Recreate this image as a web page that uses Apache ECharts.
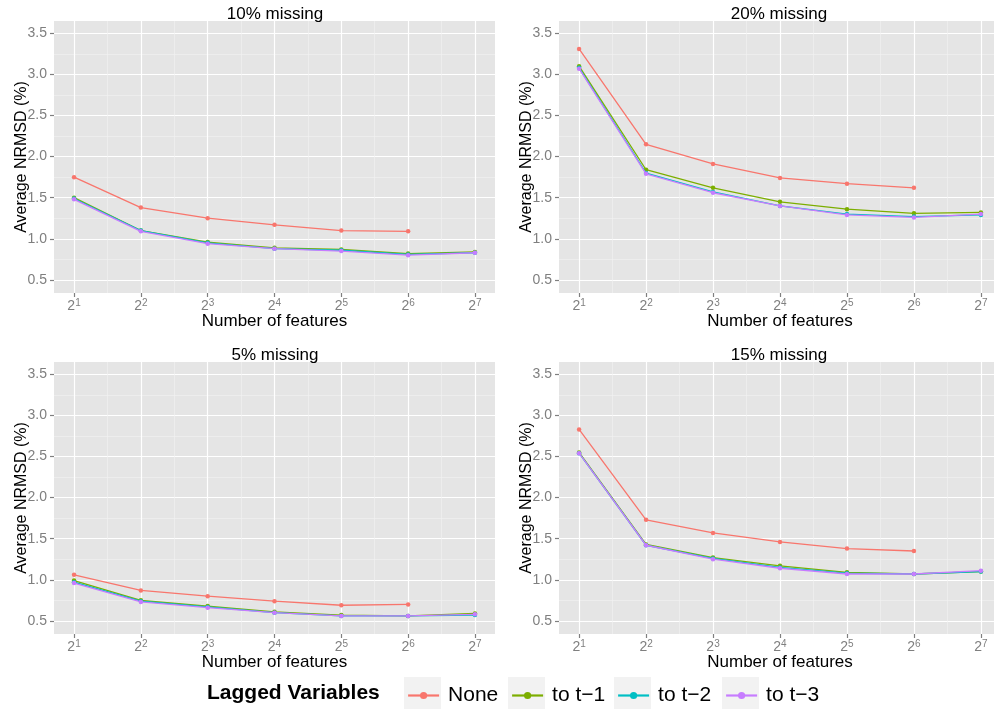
<!DOCTYPE html>
<html>
<head>
<meta charset="utf-8">
<script src="https://cdn.jsdelivr.net/npm/echarts@6/dist/echarts.min.js"></script>
<style>
  html, body { margin: 0; padding: 0; background: #fff; }
  #main { width: 994px; height: 709px; }
</style>
</head>
<body>
<div id="main"></div>
<script>
// number of features (x), lagged variable groups
const features = [2, 4, 8, 16, 32, 64, 128]
const lagNames = ['None', 'to t\u22121', 'to t\u22122', 'to t\u22123']
const lagColors = ['#F8766D', '#7CAE00', '#00BFC4', '#C77CFF']
const panelTitles = ['10% missing', '20% missing', '5% missing', '15% missing']
const yTicks = [0.5, 1.0, 1.5, 2.0, 2.5, 3.0, 3.5]
const yMinorTicks = [0.75, 1.25, 1.75, 2.25, 2.75, 3.25]

// average NRMSD (%) per panel, one array per lag setting
const miss10None = [1.75, 1.38, 1.25, 1.17, 1.10, 1.09]
const miss10T1 = [1.50, 1.10, 0.96, 0.89, 0.87, 0.82, 0.84]
const miss10T2 = [1.49, 1.10, 0.95, 0.88, 0.86, 0.81, 0.83]
const miss10T3 = [1.48, 1.09, 0.94, 0.88, 0.85, 0.80, 0.83]

const miss20None = [3.31, 2.15, 1.91, 1.74, 1.67, 1.62]
const miss20T1 = [3.10, 1.84, 1.62, 1.45, 1.36, 1.31, 1.32]
const miss20T2 = [3.08, 1.80, 1.57, 1.40, 1.30, 1.27, 1.29]
const miss20T3 = [3.07, 1.79, 1.56, 1.40, 1.29, 1.26, 1.30]

const miss5None = [1.06, 0.87, 0.80, 0.74, 0.69, 0.70]
const miss5T1 = [0.99, 0.75, 0.68, 0.61, 0.57, 0.56, 0.59]
const miss5T2 = [0.97, 0.74, 0.67, 0.60, 0.56, 0.56, 0.57]
const miss5T3 = [0.96, 0.73, 0.66, 0.60, 0.56, 0.56, 0.58]

const miss15None = [2.83, 1.73, 1.57, 1.46, 1.38, 1.35]
const miss15T1 = [2.55, 1.43, 1.27, 1.17, 1.09, 1.07, 1.10]
const miss15T2 = [2.54, 1.42, 1.26, 1.15, 1.08, 1.07, 1.10]
const miss15T3 = [2.54, 1.42, 1.25, 1.14, 1.07, 1.07, 1.11]

const panelData = [
    [miss10None, miss10T1, miss10T2, miss10T3],
    [miss20None, miss20T1, miss20T2, miss20T3],
    [miss5None, miss5T1, miss5T2, miss5T3],
    [miss15None, miss15T1, miss15T2, miss15T3],
]

const FONT = 'Liberation Sans, Arial, Helvetica, sans-serif'
const grids = [
    { left: 54, top: 21, width: 441, height: 272 },
    { left: 559, top: 21, width: 442, height: 272 },
    { left: 54, top: 362, width: 441, height: 272 },
    { left: 559, top: 362, width: 442, height: 272 },
]
const titleCenters = [[275, 6], [779, 6], [275, 347], [779, 347]]

const xExp = features.map(f => Math.log2(f))
const xMinor = xExp.slice(0, -1).map(e => e + 0.5)

const chart = echarts.init(document.getElementById('main'))

const xAxes = []
const yAxes = []
const series = []
grids.forEach((g, i) => {
    // major x axis with 2^n labels
    xAxes.push({
        type: 'value', gridIndex: i, min: 0.7, max: 7.3,
        name: 'Number of features', nameLocation: 'middle', nameGap: 20, nameMoveOverlap: false,
        nameTextStyle: { fontSize: 17, color: '#000', fontFamily: FONT },
        axisLine: { show: false },
        axisTick: { show: true, length: 4, customValues: xExp, lineStyle: { color: '#7f7f7f', width: 1.2 } },
        axisLabel: {
            customValues: xExp, margin: 5, color: '#7f7f7f', fontFamily: FONT,
            formatter: v => '{b|2}{s|' + Math.round(v) + '}',
            rich: {
                b: { fontSize: 14, color: '#7f7f7f', fontFamily: FONT, lineHeight: 17 },
                s: { fontSize: 10, color: '#7f7f7f', fontFamily: FONT, lineHeight: 17, verticalAlign: 'top', padding: [0, 0, 7, 0] },
            },
        },
        splitLine: { show: true, lineStyle: { color: '#ffffff', width: 1.2 } },
    })
    // minor x grid lines
    xAxes.push({
        type: 'value', gridIndex: i, min: 0.7, max: 7.3, position: 'top',
        axisLine: { show: false }, axisLabel: { show: false },
        axisTick: { show: false, customValues: xMinor },
        splitLine: { show: true, lineStyle: { color: '#f2f2f2', width: 0.6 } },
    })
    yAxes.push({
        type: 'value', gridIndex: i, min: 0.34, max: 3.65,
        name: 'Average NRMSD (%)', nameLocation: 'middle', nameGap: 24, nameMoveOverlap: false,
        nameTextStyle: { fontSize: 16, color: '#000', fontFamily: FONT },
        axisLine: { show: false },
        axisTick: { show: true, length: 4, customValues: yTicks, lineStyle: { color: '#7f7f7f', width: 1.2 } },
        axisLabel: {
            customValues: yTicks, margin: 7, fontSize: 14, color: '#7f7f7f', fontFamily: FONT,
            formatter: v => v.toFixed(1),
        },
        splitLine: { show: true, lineStyle: { color: '#ffffff', width: 1.2 } },
    })
    yAxes.push({
        type: 'value', gridIndex: i, min: 0.34, max: 3.65, position: 'right',
        axisLine: { show: false }, axisLabel: { show: false },
        axisTick: { show: false, customValues: yMinorTicks },
        splitLine: { show: true, lineStyle: { color: '#f2f2f2', width: 0.6 } },
    })
    panelData[i].forEach((vals, k) => {
        series.push({
            name: lagNames[k],
            type: 'line',
            xAxisIndex: 2 * i,
            yAxisIndex: 2 * i,
            data: vals.map((v, j) => [xExp[j], v]),
            symbol: 'circle',
            symbolSize: 4.5,
            showSymbol: true,
            color: lagColors[k],
            lineStyle: { width: 1.3, color: lagColors[k] },
            itemStyle: { color: lagColors[k] },
            emphasis: { disabled: true },
            animation: false,
            z: 2 + k,
        })
    })
})

const keyLefts = [404, 508, 614, 722]

chart.setOption({
    backgroundColor: '#ffffff',
    animation: false,
    title: panelTitles.map((t, i) => ({
        text: t,
        left: titleCenters[i][0],
        top: titleCenters[i][1],
        textAlign: 'center',
        padding: 0,
        textStyle: { fontSize: 17, fontWeight: 'normal', color: '#000', fontFamily: FONT },
    })),
    grid: grids.map(g => Object.assign({
        backgroundColor: '#e5e5e5', show: true, borderWidth: 0, outerBoundsMode: 'none',
    }, g)),
    xAxis: xAxes,
    yAxis: yAxes,
    legend: lagNames.map((n, k) => ({
        data: [n],
        left: keyLefts[k] + 3,
        top: 685,
        padding: 0,
        itemWidth: 31,
        itemHeight: 9,
        selectedMode: false,
        lineStyle: { width: 2.2 },
        textStyle: { fontSize: 21, color: '#000', fontFamily: FONT, padding: [0, 0, 0, 4] },
    })),
    graphic: [
        {
            type: 'text', left: 207, top: 683,
            style: { text: 'Lagged Variables', font: 'bold 21px ' + FONT, fill: '#000' },
        },
    ].concat(keyLefts.map(x => ({
        type: 'rect', left: x, top: 677, z: -1,
        shape: { width: 37, height: 32 },
        style: { fill: '#f2f2f2' },
    }))),
    series: series,
})
</script>
</body>
</html>
